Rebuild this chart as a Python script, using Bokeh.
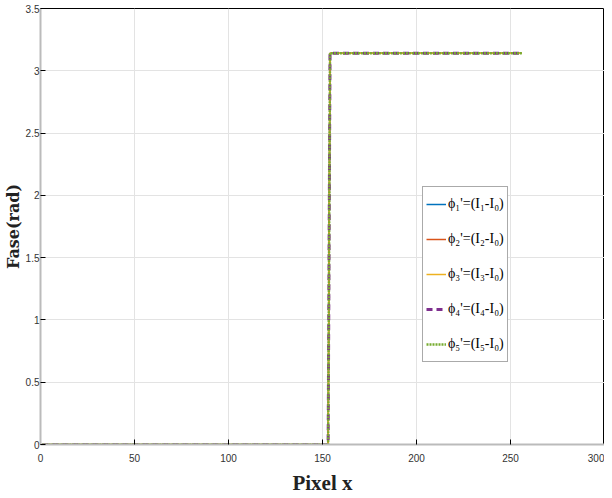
import math
from bokeh.plotting import figure
from bokeh.models import Legend, LegendItem, FixedTicker, Range1d
from bokeh.embed import file_html
from bokeh.resources import INLINE

# data
pixel_x = [1, 153, 154, 256]
phase = [0.0, 0.0, math.pi, math.pi]
labels = ["ϕ₁'=(I₁-I₀)", "ϕ₂'=(I₂-I₀)", "ϕ₃'=(I₃-I₀)", "ϕ₄'=(I₄-I₀)", "ϕ₅'=(I₅-I₀)"]
colors = ["#0072BD", "#D95319", "#EDB120", "#7E2F8E", "#77AC30"]
dashes = ["solid", "solid", "solid", "6 4", "2 1"]
widths = [1.5, 1.5, 1.5, 3, 2.5]
x_ticks = [0, 50, 100, 150, 200, 250, 300]
y_ticks = [0, 0.5, 1, 1.5, 2, 2.5, 3, 3.5]

p = figure(width=604, height=497, output_backend="svg", toolbar_location=None,
           x_range=Range1d(0, 300), y_range=Range1d(0, 3.5),
           min_border_left=0, min_border_right=0, min_border_top=8, min_border_bottom=0)
p.background_fill_color = "white"
p.outline_line_color = "black"
p.outline_line_width = 1

items = []
for lab, c, d, w in zip(labels, colors, dashes, widths):
    r = p.line(pixel_x, phase, line_color=c, line_dash=d, line_width=w)
    items.append(LegendItem(label=lab, renderers=[r]))

p.xaxis.ticker = FixedTicker(ticks=x_ticks)
p.yaxis.ticker = FixedTicker(ticks=y_ticks)
for ax in (p.xaxis[0], p.yaxis[0]):
    ax.major_label_text_font = "Liberation Sans"
    ax.major_label_text_font_size = "10px"
    ax.major_label_text_color = "#333333"
    ax.major_label_standoff = 1
    ax.axis_line_color = "#bbbbbb"
    ax.axis_line_width = 2
    ax.major_tick_line_color = "black"
    ax.major_tick_in = 5
    ax.major_tick_out = 0
    ax.minor_tick_line_color = None
    ax.axis_label_text_font_style = "bold"
    ax.axis_label_text_color = "#222222"
p.xaxis.major_label_standoff = 9
p.xaxis.axis_label = "Pixel x"
p.xaxis.axis_label_text_font = "Liberation Serif"
p.xaxis.axis_label_text_font_size = "21px"
p.xaxis.axis_label_standoff = 6
p.yaxis.axis_label = "Fase(rad)"
p.yaxis.axis_label_text_font = "DejaVu Serif"
p.yaxis.axis_label_text_font_size = "16px"
p.yaxis.axis_label_standoff = 0

p.grid.grid_line_color = "#e3e3e3"
p.grid.grid_line_width = 1

legend = Legend(items=items, location=(382, 82))
legend.label_text_font = "Liberation Serif"
legend.label_text_font_size = "14px"
legend.label_text_color = "black"
legend.glyph_width = 20
legend.glyph_height = 28
legend.label_height = 28
legend.spacing = 7
legend.padding = 3
legend.margin = 0
legend.label_standoff = 2
legend.border_line_color = "#555555"
legend.border_line_width = 1
legend.background_fill_color = "white"
legend.background_fill_alpha = 1
p.add_layout(legend, "center")

open("out.html", "w").write(file_html(p, INLINE))
